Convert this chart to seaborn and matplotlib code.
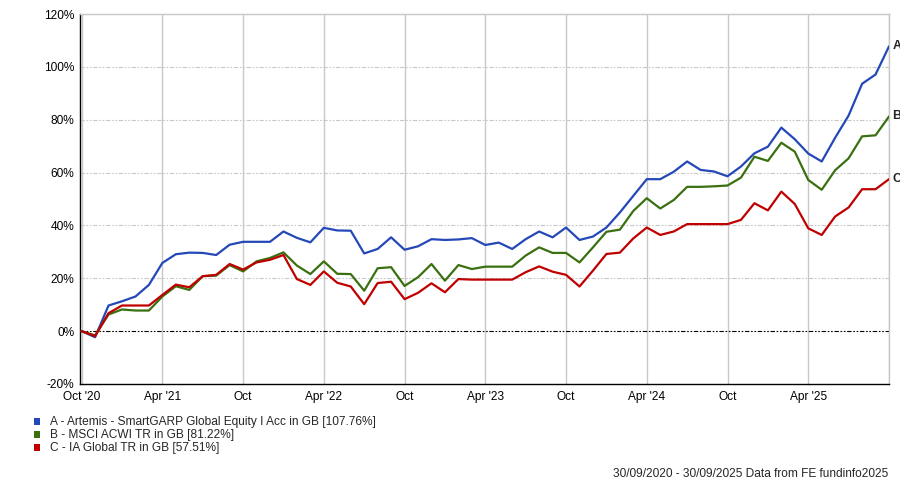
import matplotlib
matplotlib.use("Agg")
from matplotlib import pyplot as plt
from matplotlib.patches import Rectangle
import seaborn as sns
import pandas as pd

# monthly cumulative returns (%), 30/09/2020 - 30/09/2025
months = list(range(61))
artemis_a = [0, -2.3, 9.7, 11.3, 13.1, 17.5, 25.8, 29.1, 29.7, 29.6, 28.8, 32.7,
             33.8, 33.8, 33.8, 37.7, 35.3, 33.6, 39.1, 38.1, 38.0, 29.4, 31.1, 35.5,
             30.8, 32.1, 34.8, 34.5, 34.7, 35.2, 32.6, 33.5, 31.1, 34.8, 37.7, 35.5,
             39.2, 34.5, 35.8, 39.2, 44.9, 51.2, 57.5, 57.5, 60.3, 64.2, 61.0, 60.4,
             58.6, 62.3, 67.3, 69.8, 77.0, 72.6, 67.2, 64.2, 73.2, 81.6, 93.6, 97.1,
             107.76]
msci_b = [0, -1.6, 6.3, 8.2, 7.8, 7.8, 13.1, 17.0, 15.6, 20.8, 21.0, 25.0,
          22.6, 26.4, 27.7, 29.8, 24.8, 21.6, 26.4, 21.7, 21.6, 15.3, 23.8, 24.2,
          17.1, 20.4, 25.4, 19.1, 25.0, 23.5, 24.4, 24.4, 24.4, 28.6, 31.7, 29.6,
          29.6, 26.0, 31.7, 37.6, 38.4, 45.5, 50.3, 46.4, 49.6, 54.6, 54.6, 54.8,
          55.1, 58.1, 66.0, 64.4, 71.3, 67.9, 57.2, 53.5, 60.9, 65.4, 73.7, 74.1,
          81.22]
ia_c = [0, -1.9, 6.8, 9.7, 9.7, 9.7, 13.7, 17.6, 16.6, 20.8, 21.3, 25.4,
        23.3, 26.0, 27.0, 28.8, 19.7, 17.5, 22.6, 18.3, 16.9, 10.2, 18.2, 18.7,
        12.1, 14.5, 18.1, 14.7, 19.7, 19.5, 19.5, 19.5, 19.5, 22.3, 24.5, 22.5,
        21.3, 16.9, 22.9, 29.2, 29.7, 35.1, 39.2, 36.4, 37.7, 40.5, 40.5, 40.5,
        40.5, 42.1, 48.4, 45.7, 52.8, 48.1, 38.9, 36.4, 43.4, 46.8, 53.7, 53.7,
        57.51]

series_keys = ["A", "B", "C"]
series_names = ["A - Artemis - SmartGARP Global Equity I Acc in GB [107.76%]",
                "B - MSCI ACWI TR in GB [81.22%]",
                "C - IA Global TR in GB [57.51%]"]
colors = ["#2548b8", "#3a7010", "#c00000"]

tick_pos = [0, 6, 12, 18, 24, 30, 36, 42, 48, 54]
tick_labels = ["Oct '20", "Apr '21", "Oct", "Apr '22", "Oct", "Apr '23",
               "Oct", "Apr '24", "Oct", "Apr '25"]
y_ticks = [-20, 0, 20, 40, 60, 80, 100, 120]

df = pd.concat([
    pd.DataFrame({"month": months, "value": vals, "series": key})
    for key, vals in zip(series_keys, [artemis_a, msci_b, ia_c])
])

sns.set_theme(style="white")
plt.rcParams["font.family"] = ["Liberation Sans", "DejaVu Sans"]
fs = 8.6

fig = plt.figure(figsize=(9, 4.84), dpi=100)
ax = fig.add_axes([80 / 900, 1 - 384 / 484, 809 / 900, 370 / 484])

# grid
for p in tick_pos + [60]:
    ax.axvline(p, color="#c8c8c8", lw=1.0, zorder=0)
for v in y_ticks[2:]:
    ax.axhline(v, color="#c8c8c8", lw=0.8, ls=(0, (4, 1.5, 1.5, 1.5, 1.5, 1.5)), zorder=0)
ax.axhline(0, color="black", lw=0.8, ls=(0, (4, 1.5, 1.5, 1.5, 1.5, 1.5)), zorder=1)

sns.lineplot(data=df.iloc[::-1], x="month", y="value", hue="series",
             hue_order=series_keys, palette=colors, lw=1.6,
             legend=False, ax=ax, zorder=3)

ax.set_xlim(-0.12, 60)
ax.set_ylim(-20, 120)
ax.set_xticks(tick_pos)
ax.set_xticklabels(tick_labels)
ax.set_yticks(y_ticks)
ax.set_yticklabels([f"{v}%" for v in y_ticks])
ax.tick_params(axis="both", length=0, labelsize=fs, colors="black")
ax.tick_params(axis="x", pad=5)
ax.tick_params(axis="y", pad=4)
ax.set_xlabel("")
ax.set_ylabel("")

for side in ["left", "bottom"]:
    ax.spines[side].set_color("black")
    ax.spines[side].set_linewidth(1.0)
for side in ["top", "right"]:
    ax.spines[side].set_color("#c8c8c8")
    ax.spines[side].set_linewidth(1.0)

# end labels
for key, vals in zip(series_keys, [artemis_a, msci_b, ia_c]):
    ax.annotate(key, xy=(60, vals[-1]), xytext=(2.5, 0), textcoords="offset points",
                ha="left", va="center", fontsize=9, fontweight="bold",
                annotation_clip=False)

# legend
for i, (name, c) in enumerate(zip(series_names, colors)):
    yc = 422 + i * 13
    fig.add_artist(Rectangle((34 / 900, 1 - (yc + 3) / 484), 6 / 900, 7 / 484,
                             transform=fig.transFigure, color=c, lw=0))
    fig.text(50 / 900, 1 - yc / 484, name, fontsize=fs, va="center", ha="left")

fig.text(888 / 900, 1 - 474 / 484, "30/09/2020 - 30/09/2025 Data from FE fundinfo2025",
         fontsize=fs, ha="right", va="center")

fig.savefig("out.png", dpi=100, facecolor="white")
